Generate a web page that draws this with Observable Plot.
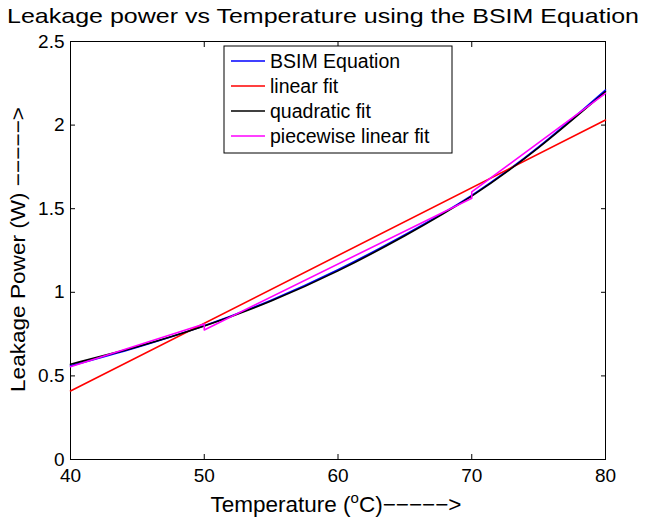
<!DOCTYPE html>
<html><head><meta charset="utf-8">
<script src="https://cdn.jsdelivr.net/npm/d3@7"></script>
<script src="https://cdn.jsdelivr.net/npm/@observablehq/plot@0.6"></script>
<style>body{margin:0;background:#fff;} svg{font-family:"Liberation Sans",Arial,sans-serif;}</style>
</head><body><div id="chart"></div>
<script>
const temps = [40,45,50,55,60,65,70,75,80];
const bsim  = [0.56,0.672,0.80,0.953,1.135,1.345,1.58,1.87,2.21];
const quad  = [0.57,0.675,0.798,0.948,1.128,1.338,1.575,1.865,2.20];
const linT  = [40,80];
const linV  = [0.41,2.03];
const pwT   = [40,50,50,70,70,80];
const pwV   = [0.555,0.81,0.775,1.563,1.60,2.19];
const xTicks = [40,50,60,70,80];
const yTicks = [0,0.5,1,1.5,2,2.5];
const seriesNames = ["BSIM Equation","linear fit","quadratic fit","piecewise linear fit"];
const seriesColors = ["#0000ff","#ff0000","#000000","#ff00ff"];
const seriesCurves = ["natural","linear","natural","linear"];

const toRows = (xs, ys) => xs.map((x,i)=>({x, y: ys[i]}));
const sets = [toRows(temps,bsim), toRows(linT,linV), toRows(temps,quad), toRows(pwT,pwV)];

const chart = Plot.plot({
  width: 645, height: 524,
  marginLeft: 70, marginRight: 40, marginTop: 41, marginBottom: 65,
  style: {fontFamily: "Liberation Sans, Arial, sans-serif", fontSize: "19px", color: "black", background: "white"},
  x: {domain: [40,80]},
  y: {domain: [0,2.5]},
  marks: [
    Plot.frame({stroke: "black", strokeWidth: 1}),
    Plot.axisX(xTicks, {anchor: "bottom", tickSize: -5, tickPadding: 14, label: null, fontSize: 19}),
    Plot.axisX(xTicks, {anchor: "top", tickSize: -5, label: null, tickFormat: () => ""}),
    Plot.axisY(yTicks, {anchor: "left", tickSize: -5, tickPadding: 11, label: null, fontSize: 19, tickFormat: d => String(d)}),
    Plot.axisY(yTicks, {anchor: "right", tickSize: -5, label: null, tickFormat: () => ""}),
    ...sets.map((rows,i) => Plot.line(rows, {x: "x", y: "y", stroke: seriesColors[i], strokeWidth: 1.6, curve: seriesCurves[i]}))
  ]
});
document.getElementById("chart").appendChild(chart);

const svg = d3.select(chart);
// title
svg.append("text").attr("x", 7).attr("y", 23).attr("text-anchor", "start")
  .attr("font-size", 21).attr("fill", "black")
  .attr("textLength", 632).attr("lengthAdjust", "spacingAndGlyphs")
  .text("Leakage power vs Temperature using the BSIM Equation");
// x label with superscript
const xl = svg.append("text").attr("x", 336).attr("y", 512).attr("text-anchor", "middle")
  .attr("font-size", 22.5).attr("fill", "black");
xl.append("tspan").text("Temperature (");
xl.append("tspan").attr("dy", -9).attr("font-size", 15).text("o");
xl.append("tspan").attr("dy", 9).text("C)−−−−−>");
// y label
svg.append("text").attr("transform", "translate(25,249.5) rotate(-90)").attr("text-anchor", "middle")
  .attr("font-size", 21).attr("fill", "black")
  .attr("textLength", 285).attr("lengthAdjust", "spacingAndGlyphs")
  .text("Leakage Power (W) −−−−−>");
// legend
const lg = svg.append("g");
lg.append("rect").attr("x", 224).attr("y", 46).attr("width", 228).attr("height", 107)
  .attr("fill", "white").attr("stroke", "black").attr("stroke-width", 1);
seriesNames.forEach((name,i) => {
  const cy = 61 + i*25;
  lg.append("line").attr("x1", 231).attr("x2", 265).attr("y1", cy).attr("y2", cy)
    .attr("stroke", seriesColors[i]).attr("stroke-width", 1.6);
  lg.append("text").attr("x", 270).attr("y", cy + 7).attr("text-anchor", "start")
    .attr("font-size", 19.5).attr("fill", "black").text(name);
});
</script></body></html>
